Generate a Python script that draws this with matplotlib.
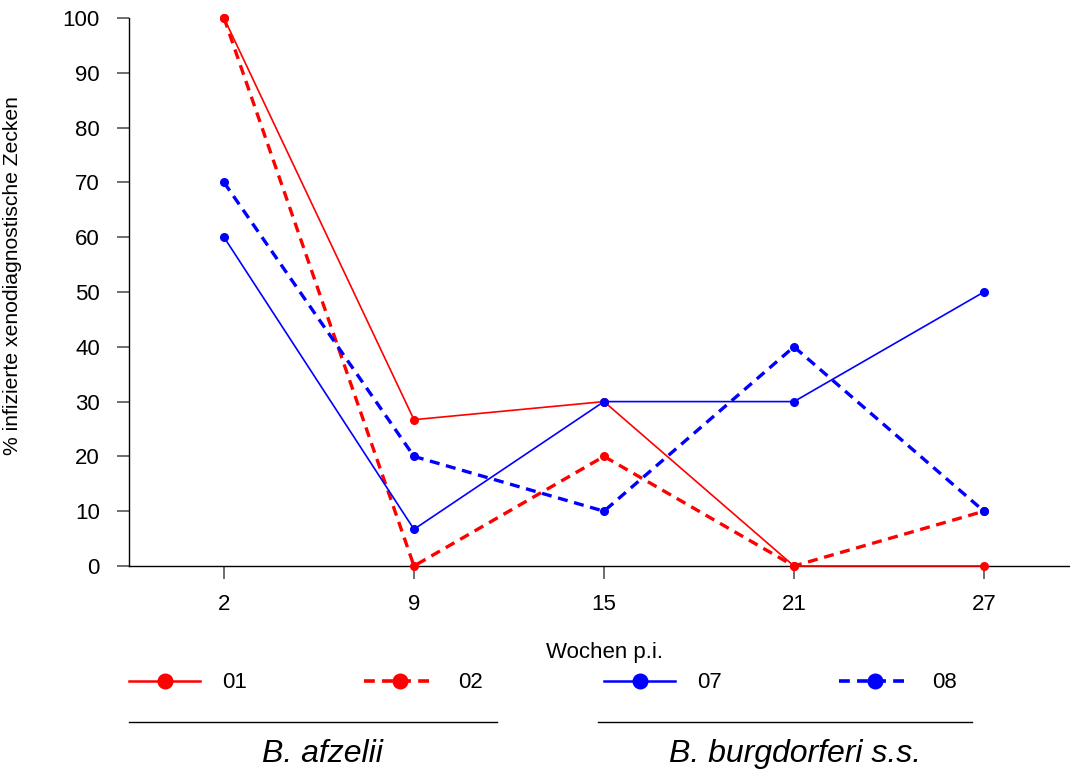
import matplotlib.pyplot as plt
from matplotlib.lines import Line2D

plt.rcParams['font.family'] = ['Liberation Sans', 'DejaVu Sans']

# Wochen p.i. (kategoriale Achse)
weeks = ['2', '9', '15', '21', '27']

# % infizierte xenodiagnostische Zecken
mouse_01 = [100, 26.7, 30, 0, 0]
mouse_02 = [100, 0, 20, 0, 10]
mouse_07 = [60, 6.7, 30, 30, 50]
mouse_08 = [70, 20, 10, 40, 10]

series_afz = [('01', mouse_01, 'solid'), ('02', mouse_02, 'dashed')]
series_bss = [('07', mouse_07, 'solid'), ('08', mouse_08, 'dashed')]
groups = ['B. afzelii', 'B. burgdorferi s.s.']

W, H = 1070, 769
fig = plt.figure(figsize=(W / 100, H / 100), dpi=100)
ax = fig.add_axes([129 / W, 1 - 566 / H, 1 - 129 / W, (566 - 18) / H])

x = range(len(weeks))


def draw(ax, series, color):
    for name, vals, style in series:
        if style == 'solid':
            ax.plot(x, vals, color=color, lw=1.2, marker='o', ms=5.5, clip_on=False, zorder=3)
        else:
            ax.plot(x, vals, color=color, lw=2.4, ls=(0, (3, 2)), marker='o', ms=5.5,
                    clip_on=False, zorder=3)


draw(ax, series_afz, '#ff0000')
draw(ax, series_bss, '#0000ff')

ax.set_xlim(-0.5, 4.453)
ax.set_ylim(0, 100)
ax.set_xticks(list(x))
ax.set_xticklabels(weeks)
ax.set_yticks(range(0, 101, 10))

for s in ['top', 'right']:
    ax.spines[s].set_visible(False)
for s in ['left', 'bottom']:
    ax.spines[s].set_color('black')
    ax.spines[s].set_linewidth(1.0)
ax.tick_params(axis='both', colors='#555555', labelcolor='black', length=9,
               width=1.2, labelsize=16)
ax.tick_params(axis='x', pad=11)
ax.tick_params(axis='y', pad=12)

ax.set_ylabel('% infizierte xenodiagnostische Zecken', fontsize=15.2)
ax.yaxis.set_label_coords(-0.114, 0.53)
ax.set_xlabel('Wochen p.i.', fontsize=16)
ax.xaxis.set_label_coords(0.505, -0.139)


def make_legend(series, color, left):
    handles = []
    for name, vals, style in series:
        if style == 'solid':
            h = Line2D([], [], color=color, lw=1.8, marker='o', ms=10.5)
        else:
            h = Line2D([], [], color=color, lw=2.6, ls=(0, (3, 2)), marker='o', ms=10.5)
        handles.append(h)
    fig.legend(handles, [s[0] for s in series], ncol=2, loc='center left',
               bbox_to_anchor=(left / W, 1 - 683 / H), frameon=False,
               fontsize=16, handlelength=3.2, handletextpad=1.0,
               columnspacing=5.27, borderpad=0, borderaxespad=0)


make_legend(series_afz, '#ff0000', 129)
make_legend(series_bss, '#0000ff', 604)

# Gruppenlinien und Beschriftung
fig.add_artist(Line2D([129 / W, 497 / W], [1 - 722 / H] * 2, color='black', lw=1.0))
fig.add_artist(Line2D([598 / W, 972 / W], [1 - 722 / H] * 2, color='black', lw=1.0))
fig.text(322 / W, 1 - 754 / H, groups[0], style='italic', fontsize=23,
         ha='center', va='center')
fig.text(795 / W, 1 - 754 / H, groups[1], style='italic', fontsize=23,
         ha='center', va='center')

fig.savefig('out.png', dpi=100)
